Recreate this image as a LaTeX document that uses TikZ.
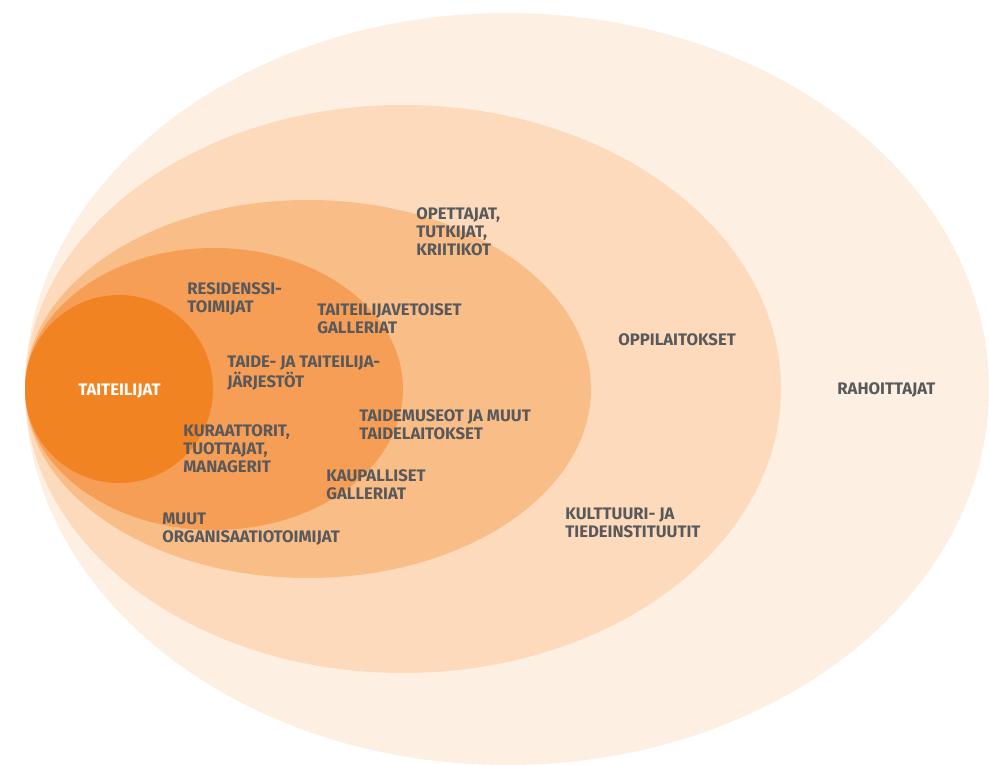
\documentclass[tikz,border=0pt]{standalone}
\usepackage{fontspec}
\setmainfont{Fira Sans}
\usepackage{tikz}

\definecolor{ringA}{HTML}{FDEFE2}
\definecolor{ringB}{HTML}{FDDABB}
\definecolor{ringC}{HTML}{F9BD88}
\definecolor{ringD}{HTML}{F79E56}
\definecolor{coreorange}{HTML}{F28322}
\definecolor{labelgray}{HTML}{58595B}

\tikzset{
  lbl/.style={anchor=north west, inner sep=0pt, align=left, text=labelgray,
    font=\bfseries\fontsize{9.5}{10.2}\selectfont},
  corelbl/.style={inner sep=0pt, text=white, font=\bfseries\fontsize{9.5}{10.2}\selectfont}
}

\begin{document}
\begin{tikzpicture}[x=0.02cm, y=0.02cm]
    \useasboundingbox (0,0) rectangle (989,764);

      \fill[ringA] (507,375) ellipse [x radius=482, y radius=376];
      \fill[ringB] (403,375) ellipse [x radius=378, y radius=284];
      \fill[ringC] (308,375) ellipse [x radius=283, y radius=189];
      \fill[ringD] (214,375) ellipse [x radius=189, y radius=141];
      \fill[coreorange] (119,375) circle [radius=94];

      \node[corelbl] (taiteilijat) at (119.5,373) {TAITEILIJAT};

      \node[lbl] (residenssi) at (187,482) {RESIDENSSI-\\TOIMIJAT};
      \node[lbl] (taiteilijavetoiset) at (317,461) {TAITEILIJAVETOISET\\GALLERIAT};
      \node[lbl] (jarjestot) at (227,408) {TAIDE- JA TAITEILIJA-\\JÄRJESTÖT};
      \node[lbl] (kuraattorit) at (183,340) {KURAATTORIT,\\TUOTTAJAT,\\MANAGERIT};
      \node[lbl] (taidemuseot) at (359,355) {TAIDEMUSEOT JA MUUT\\TAIDELAITOKSET};
      \node[lbl] (kaupalliset) at (326,295) {KAUPALLISET\\GALLERIAT};
      \node[lbl] (muut) at (162,251) {MUUT\\ORGANISAATIOTOIMIJAT};
      \node[lbl] (opettajat) at (416,557) {OPETTAJAT,\\TUTKIJAT,\\KRIITIKOT};
      \node[lbl] (oppilaitokset) at (618,431) {OPPILAITOKSET};
      \node[lbl] (kulttuuri) at (565,256) {KULTTUURI- JA\\TIEDEINSTITUUTIT};
      \node[lbl, anchor=west] (rahoittajat) at (837,374) {RAHOITTAJAT};
    \end{tikzpicture}
\end{document}
